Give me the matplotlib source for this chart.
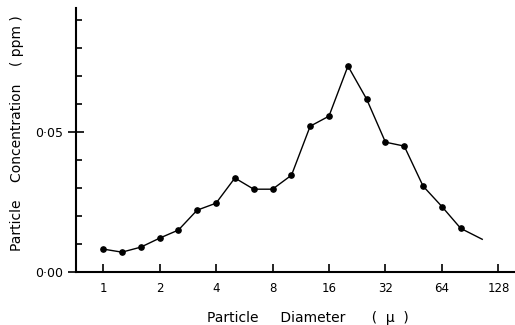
import matplotlib
matplotlib.use("Agg")
import matplotlib.pyplot as plt
from matplotlib.ticker import FixedLocator, NullFormatter

# particle diameter (microns) and concentration (ppm)
diameter = [1.0, 1.26, 1.59, 2.0, 2.52, 3.17, 4.0, 5.04, 6.35, 8.0,
            10.1, 12.7, 16.0, 20.2, 25.4, 32.0, 40.3, 50.8, 64.0, 80.6]
concentration = [0.0082, 0.0071, 0.0089, 0.0121, 0.0150, 0.0221, 0.0246, 0.0336,
                 0.0296, 0.0296, 0.0346, 0.0521, 0.0557, 0.0736, 0.0618, 0.0464,
                 0.0450, 0.0307, 0.0234, 0.0156]
# tail of the curve, drawn without a marker
tail_x = [80.6, 105.0]
tail_y = [0.0156, 0.0117]

xticks = [1, 2, 4, 8, 16, 32, 64, 128]
xticklabels = ["1", "2", "4", "8", "16", "32", "64", "128"]
yticks_major = [0.0, 0.05]
yticklabels = ["0·00", "0·05"]
yticks_minor = [0.01, 0.02, 0.03, 0.04, 0.06, 0.07, 0.08, 0.09]

fig = plt.figure(figsize=(5.15, 3.25), dpi=100)
ax = fig.add_axes([0.1476, 0.163, 0.8524, 0.812])

ax.plot(diameter, concentration, color="black", lw=1.0, marker="o", ms=3.8)
ax.plot(tail_x, tail_y, color="black", lw=1.0)

ax.set_xscale("log", base=2)
ax.set_xlim(0.717, 157)
ax.set_ylim(0, 0.0943)

ax.xaxis.set_major_locator(FixedLocator(xticks))
ax.set_xticklabels(xticklabels, fontsize=8.5)
ax.xaxis.set_minor_locator(FixedLocator([]))
ax.tick_params(axis="x", which="major", direction="in", length=6, width=1.2, pad=7)

ax.yaxis.set_major_locator(FixedLocator(yticks_major))
ax.set_yticklabels(yticklabels, fontsize=9)
ax.yaxis.set_minor_locator(FixedLocator(yticks_minor))
ax.yaxis.set_minor_formatter(NullFormatter())
ax.tick_params(axis="y", which="major", direction="inout", length=12, width=1.2, pad=3)
ax.tick_params(axis="y", which="minor", direction="in", length=4, width=1.2)

for s in ["top", "right"]:
    ax.spines[s].set_visible(False)
for s in ["left", "bottom"]:
    ax.spines[s].set_linewidth(1.5)

ax.set_xlabel("Particle     Diameter      (  μ  )", fontsize=10)
ax.xaxis.set_label_coords(0.528, -0.148)
ax.set_ylabel("Particle    Concentration    ( ppm )", fontsize=10)
ax.yaxis.set_label_coords(-0.118, 0.528)

fig.savefig("out.png", dpi=100)
